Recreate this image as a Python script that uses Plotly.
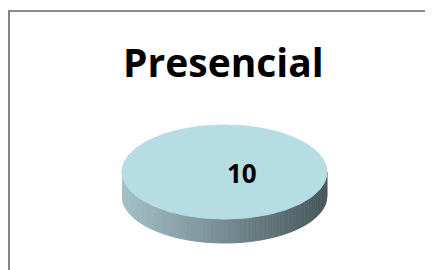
import numpy as np
import plotly.graph_objects as go

# ---- data ----
title_text = "Presencial"
labels = ["Presencial"]
values = [10]
slice_colors = ["#B6DDE4"]

# ---- geometry (window pixel space) ----
W, H = 433, 270
OFF = 8  # page body margin
cx, cy = 224.5, 172.0
rx, ry = 102.5, 47.0
depth = 24.0

def lerp_color(c1, c2, t):
    a = [int(c1[i:i + 2], 16) for i in (1, 3, 5)]
    b = [int(c2[i:i + 2], 16) for i in (1, 3, 5)]
    r = [round(a[k] + (b[k] - a[k]) * t) for k in range(3)]
    return "rgb(%d,%d,%d)" % tuple(r)

fig = go.Figure()

# side wall (front half), drawn as narrow strips with a horizontal gradient
N = 90
xs = np.linspace(cx - rx, cx + rx, N + 1)
def lower_arc(x):
    return cy + ry * np.sqrt(np.clip(1 - ((x - cx) / rx) ** 2, 0, 1))
for i in range(N):
    xa, xb = xs[i], xs[i + 1]
    sub = np.linspace(xa, xb, 4)
    top = lower_arc(sub)
    px = list(sub) + list(sub[::-1])
    py = list(top) + list((top + depth)[::-1])
    t = (0.5 * (xa + xb) - (cx - rx)) / (2 * rx)
    col = lerp_color("#A3C0C7", "#46565B", t)
    fig.add_trace(go.Scatter(x=px, y=py, fill="toself", fillcolor=col,
                             mode="lines", line=dict(color=col, width=1),
                             hoverinfo="skip", showlegend=False))

# top face: slices from values
total = sum(values)
start = 0.0
for lab, v, c in zip(labels, values, slice_colors):
    frac = v / total
    ang = np.linspace(start, start + 2 * np.pi * frac, 200)
    px = cx + rx * np.cos(ang)
    py = cy - ry * np.sin(ang)
    if frac < 1:
        px = np.concatenate([[cx], px, [cx]])
        py = np.concatenate([[cy], py, [cy]])
    fig.add_trace(go.Scatter(x=px, y=py, fill="toself", fillcolor=c,
                             mode="lines", line=dict(color=c, width=1),
                             name=lab, hoverinfo="skip", showlegend=False))
    start += 2 * np.pi * frac

# data label
for lab, v in zip(labels, values):
    fig.add_annotation(x=cx + 17.5, y=cy + 1, text="<b>%d</b>" % v, showarrow=False,
                       xref="x", yref="y",
                       font=dict(family="Open Sans", size=26, color="#000000"))

# title
fig.add_annotation(x=cx - 1, y=61, text="<b>%s</b>" % title_text, showarrow=False,
                   xref="x", yref="y",
                   font=dict(family="Open Sans", size=39, color="#000000"))

# chart border (top and left visible)
fig.add_shape(type="line", xref="x", yref="y", x0=8, x1=W + 20, y0=11, y1=11,
              line=dict(color="#8A8A8A", width=2))
fig.add_shape(type="line", xref="x", yref="y", x0=9, x1=9, y0=10, y1=H + 20,
              line=dict(color="#848484", width=2))

fig.update_layout(
    width=W, height=H,
    margin=dict(l=0, r=0, t=0, b=0),
    paper_bgcolor="white", plot_bgcolor="white",
    xaxis=dict(range=[OFF, W + OFF], visible=False, fixedrange=True),
    yaxis=dict(range=[H + OFF, OFF], visible=False, fixedrange=True),
)

fig.write_html("out.html", config={"displayModeBar": False})
